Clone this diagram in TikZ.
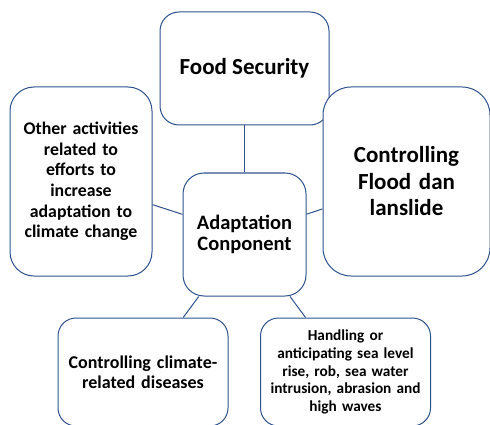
\documentclass[tikz,border=0pt]{standalone}
\usepackage{fontspec}
\setmainfont{Carlito}
\definecolor{boxline}{HTML}{2F528F}

\tikzset{
    part/.style={draw=boxline,line width=1pt,fill=white,rectangle,align=center,inner sep=2pt},
    link/.style={draw=boxline,line width=1pt}
}

\begin{document}
\begin{tikzpicture}[x=1pt,y=-1pt]

\useasboundingbox (0,0) rectangle (490,425);

% boxes round the centre
\node[part,minimum width=169pt,minimum height=113pt,rounded corners=19pt,font=\bfseries\fontsize{23}{26}\selectfont]
    (food) at (244.5,68.5) {Food Security};
\node[part,minimum width=142pt,minimum height=189pt,rounded corners=24pt,text width=136pt,font=\bfseries\fontsize{17.8}{20.7}\selectfont]
    (other) at (81,181.5) {Other activities\\related to\\efforts to\\increase\\adaptation to\\climate change};
\node[part,minimum width=167pt,minimum height=189pt,rounded corners=28pt,text width=160pt,font=\bfseries\fontsize{23}{26.5}\selectfont]
    (flood) at (406.5,181.5) {Controlling\\Flood dan\\lanslide};
\node[part,minimum width=123pt,minimum height=123pt,rounded corners=21pt,text width=118pt,font=\bfseries\fontsize{20.5}{21}\selectfont]
    (adapt) at (244.5,234.5) {Adaptation\\Conponent};
\node[part,minimum width=170pt,minimum height=108pt,rounded corners=18pt,text width=164pt,font=\bfseries\fontsize{18}{20}\selectfont]
    (disease) at (143,372) {Controlling climate-\\related diseases};
\node[part,minimum width=170pt,minimum height=108pt,rounded corners=18pt,text width=164pt,font=\bfseries\fontsize{15.3}{17.6}\selectfont]
    (sea) at (345.5,372) {Handling or\\anticipating sea level\\rise, rob, sea water\\intrusion, abrasion and\\high waves};

% links
\foreach \n in {food,other,flood,disease,sea}
{
    \draw[link] (adapt) -- (\n);
}

\end{tikzpicture}
\end{document}
